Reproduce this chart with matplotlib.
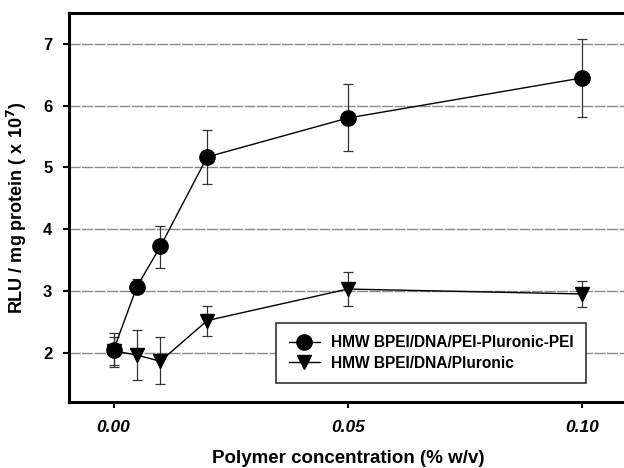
import matplotlib
matplotlib.use("Agg")
import matplotlib.pyplot as plt
from matplotlib.lines import Line2D

plt.rcParams['font.family'] = ['Liberation Sans', 'DejaVu Sans']

# polymer concentration (% w/v)
conc = [0.0, 0.005, 0.01, 0.02, 0.05, 0.10]

# HMW BPEI/DNA/PEI-Pluronic-PEI
pei_mean = [2.04, 3.07, 3.72, 5.17, 5.80, 6.45]
pei_lo = [1.77, 2.96, 3.37, 4.73, 5.27, 5.82]
pei_hi = [2.32, 3.20, 4.05, 5.60, 6.35, 7.08]

# HMW BPEI/DNA/Pluronic
plu_mean = [2.03, 1.96, 1.86, 2.52, 3.03, 2.95]
plu_lo = [1.80, 1.55, 1.49, 2.27, 2.75, 2.74]
plu_hi = [2.25, 2.36, 2.25, 2.75, 3.31, 3.16]

labels = ['HMW BPEI/DNA/PEI-Pluronic-PEI', 'HMW BPEI/DNA/Pluronic']
y_ticks = [2, 3, 4, 5, 6, 7]
x_ticks = [0.0, 0.05, 0.10]


def err(mean, lo, hi):
    return [[m - l for m, l in zip(mean, lo)], [h - m for m, h in zip(mean, hi)]]


fig = plt.figure(figsize=(6.24, 4.68), dpi=100)
ax = fig.add_axes([0.1106, 0.141, 0.895, 0.831])

ax.errorbar(conc, plu_mean, yerr=err(plu_mean, plu_lo, plu_hi), color='black',
            marker='v', markersize=10, linewidth=1.0, ecolor='#333333',
            elinewidth=0.9, capsize=3.5, capthick=0.9, zorder=3)
ax.errorbar(conc, pei_mean, yerr=err(pei_mean, pei_lo, pei_hi), color='black',
            marker='o', markersize=11, linewidth=1.0, ecolor='#333333',
            elinewidth=0.9, capsize=3.5, capthick=0.9, zorder=4)

ax.set_xlim(-0.0095, 0.1097)
ax.set_ylim(1.2, 7.5)
ax.set_yticks(y_ticks)
ax.set_xticks(x_ticks)
ax.set_yticklabels([str(t) for t in y_ticks], fontsize=12, fontweight='bold')
ax.set_xticklabels(['0.00', '0.05', '0.10'], fontsize=12.5, fontweight='bold', style='italic')
ax.tick_params(direction='out', length=4, width=1.5, pad=8)
ax.tick_params(axis='x', pad=9)

ax.yaxis.grid(True, color='#8a8a8a', linewidth=1.0, linestyle=(0, (8, 1)))
ax.set_axisbelow(True)

for side in ['left', 'bottom', 'top']:
    ax.spines[side].set_linewidth(2.2)
ax.spines['right'].set_visible(False)

ax.set_xlabel('Polymer concentration (% w/v)', fontsize=13.5, fontweight='bold', labelpad=11)
ax.set_ylabel(r'RLU / mg protein ( x 10$^\mathbf{7}$)', fontsize=13, fontweight='bold', labelpad=10)

handles = [Line2D([], [], color='black', marker='o', markersize=11, linewidth=1.0),
           Line2D([], [], color='black', marker='v', markersize=10, linewidth=1.0)]
leg = ax.legend(handles, labels, loc='lower left',
                bbox_to_anchor=(0.371, 0.049, 0.555, 0.157), mode='expand',
                fancybox=False, edgecolor='#333333', framealpha=1,
                prop={'weight': 'bold', 'size': 11.2}, handlelength=2.0,
                handletextpad=0.7, borderpad=0.8, labelspacing=0.35,
                borderaxespad=0)
leg.get_frame().set_linewidth(1.2)

fig.savefig('out.png', dpi=100)
